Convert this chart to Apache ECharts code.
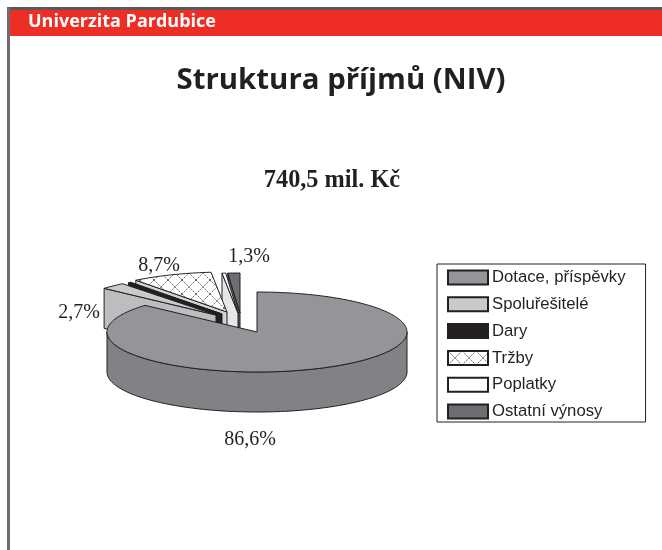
<!DOCTYPE html>
<html><head><meta charset="utf-8">
<style>html,body{margin:0;padding:0;background:#fff}#c{width:662px;height:550px}</style>
<script src="https://cdn.jsdelivr.net/npm/echarts@6/dist/echarts.min.js"></script>
</head><body><div id="c"></div>
<script>
const categories = ['Dotace, příspěvky','Spoluřešitelé','Dary','Tržby','Poplatky','Ostatní výnosy'];
const shares = [86.6, 2.7, 0.3, 8.7, 0.4, 1.3];
const shareLabels = ['86,6%','2,7%','','8,7%','','1,3%'];

// Pie geometry (oblique view)
const CX = 257, CY = 332, RX = 150, RY = 40, DEPTH = 40;
const explode = [[0,0],[-41,-17],[-35,-18],[-30,-20],[-19,-19],[-17,-19]];
const labelAt = [[250,440],[79,313],null,[159,266],null,[249,257]];
const topColor = ['#949599','#c9cacc','#231f20',null,'#ffffff','#6d6e71'];
const wallColor = ['#808285','#bcbdbf','#231f20','#d1d3d4','#e6e7e8','#58595b'];

function hatch(){
  const c = document.createElement('canvas'); c.width = c.height = 14;
  const g = c.getContext('2d');
  g.fillStyle = '#fff'; g.fillRect(0,0,14,14);
  g.strokeStyle = '#58595b'; g.lineWidth = 0.9;
  g.setLineDash([2,1]);
  g.beginPath(); g.moveTo(0,0); g.lineTo(14,14); g.moveTo(14,0); g.lineTo(0,14); g.stroke();
  return c;
}
const hatchFill = {image: hatch(), repeat: 'repeat'};
const fills = topColor.map(c => c || hatchFill);

const total = shares.reduce((a,b)=>a+b,0);
const startAngle = []; let acc = 0;
shares.forEach(v => { startAngle.push(acc/total*Math.PI*2); acc += v; });

function slice(i){
  return function(params, api){
    const sweep = api.value(0)/total*Math.PI*2, a0 = startAngle[i], a1 = a0 + sweep;
    const ax = CX + explode[i][0], ay = CY + explode[i][1];
    const pt = t => [ax + RX*Math.sin(t), ay - RY*Math.cos(t)];
    const lineStyle = {stroke:'#231f20', lineWidth:1, lineJoin:'round'};
    const children = [];
    const n = Math.max(4, Math.ceil(sweep/0.02));
    // front-facing rim of the slice
    const rim0 = Math.max(a0, Math.PI/2), rim1 = Math.min(a1, Math.PI*1.5);
    if (rim1 > rim0){
      const up = [], down = [];
      for (let k=0;k<=120;k++){ const p = pt(rim0+(rim1-rim0)*k/120); up.push(p); down.unshift([p[0],p[1]+DEPTH]); }
      children.push({type:'polygon', shape:{points:up.concat(down)}, style:Object.assign({fill:wallColor[i]},lineStyle)});
    }
    // radial wall at the start edge of exploded slices
    if (i > 0){
      const p = pt(a0);
      children.push({type:'polygon', shape:{points:[[ax,ay],p,[p[0],p[1]+DEPTH],[ax,ay+DEPTH]]},
        style:Object.assign({fill:wallColor[i]},lineStyle)});
    }
    // top face
    const pts = [[ax,ay]];
    for (let k=0;k<=n;k++) pts.push(pt(a0+sweep*k/n));
    children.push({type:'polygon', shape:{points:pts}, style:Object.assign({fill:fills[i]},lineStyle)});
    if (shareLabels[i]) children.push({type:'text', x:labelAt[i][0], y:labelAt[i][1],
      style:{text:shareLabels[i], font:'20px "Liberation Serif"', fill:'#231f20', align:'center', verticalAlign:'middle'}});
    return {type:'group', children};
  };
}

const chart = echarts.init(document.getElementById('c'), null, {renderer:'canvas'});
chart.setOption({
  animation:false,
  backgroundColor:'#fff',
  title:[
    {text:'Univerzita Pardubice', left:28, top:13, padding:0, z:10,
      textStyle:{color:'#fff', fontFamily:'Open Sans', fontWeight:'bold', fontSize:18}},
    {text:'Struktura příjmů (NIV)', left:341, textAlign:'center', top:66, padding:0,
      textStyle:{color:'#231f20', fontFamily:'Open Sans', fontWeight:'bold', fontSize:29.4}},
    {text:'740,5 mil. Kč', left:332, textAlign:'center', top:169, padding:0,
      textStyle:{color:'#231f20', fontFamily:'Liberation Serif', fontWeight:'bold', fontSize:24.3}}
  ],
  graphic:[
    {type:'rect', z:-1, shape:{x:7,y:7,width:655,height:3}, style:{fill:'#58595b'}},
    {type:'rect', z:-1, shape:{x:7,y:7,width:3,height:543}, style:{fill:'#6d6e71'}},
    {type:'rect', z:-1, shape:{x:10,y:10,width:652,height:26}, style:{fill:'#ee2e24'}}
  ],
  legend:{
    orient:'vertical', left:437, top:264,
    padding:[5,20,2,10], itemWidth:40, itemHeight:14, itemGap:9.8, icon:'rect',
    borderColor:'#231f20', borderWidth:1, backgroundColor:'#fff',
    selectedMode:false, data:categories,
    textStyle:{fontFamily:'Liberation Sans', fontSize:16.7, color:'#231f20', padding:[0,0,0,-1]}
  },
  series: categories.map((name,i)=>({
    type:'custom', name, coordinateSystem:'none', silent:true,
    z: 10 - i + (i===0 ? 10 : 0),
    itemStyle:{color:fills[i], borderColor:'#231f20', borderWidth:1},
    data:[[shares[i]]],
    renderItem:slice(i)
  }))
});
</script></body></html>
